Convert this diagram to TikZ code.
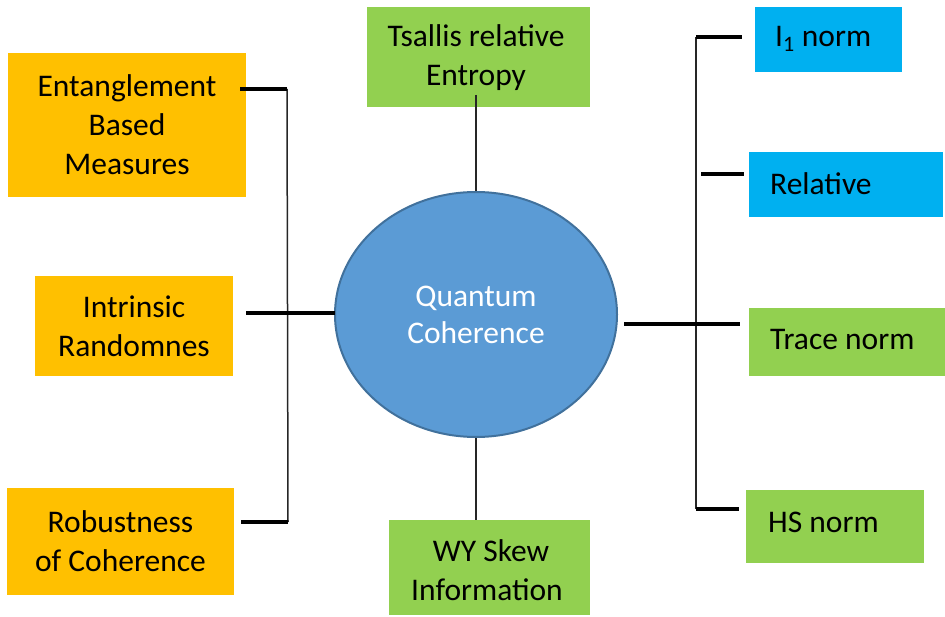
\documentclass[tikz,border=0pt]{standalone}
\usepackage{fontspec}
\setmainfont{Carlito}
\usetikzlibrary{shapes.geometric}
\definecolor{orangebox}{HTML}{FFC000}
\definecolor{greenbox}{HTML}{92D050}
\definecolor{bluebox}{HTML}{00B0F0}
\definecolor{ellfill}{HTML}{5B9BD5}
\definecolor{elledge}{HTML}{41719C}
\tikzset{
  boxbase/.style={rectangle, inner sep=0pt, outer sep=0pt, align=center,
    font=\fontsize{31.5}{39}\selectfont, text=black},
  obox/.style={boxbase, fill=orangebox},
  gbox/.style={boxbase, fill=greenbox},
  bbox/.style={boxbase, fill=bluebox},
  lbl/.style={inner sep=0pt, anchor=west, font=\fontsize{31.5}{39}\selectfont, text=black},
  thickline/.style={line width=4pt, black},
  thinline/.style={line width=1.5pt, black!85},
}
\begin{document}
\begin{tikzpicture}[x=1pt,y=-1pt]
\useasboundingbox (0,0) rectangle (945,617);
% left boxes
\node[obox, minimum width=238pt, minimum height=144pt] (ent) at (127,125) {Entanglement\\Based\\Measures};
\node[obox, minimum width=198pt, minimum height=100pt] (intr) at (134,326) {Intrinsic\\Randomnes};
\node[obox, minimum width=227pt, minimum height=107pt] (rob) at (120.5,541.5) {Robustness\\of Coherence};
% top / bottom boxes
\node[gbox, minimum width=223pt, minimum height=100pt] (ts) at (478.5,57) {};
\node[boxbase, anchor=center] at (476,58) {Tsallis relative\\Entropy};
\node[gbox, minimum width=201pt, minimum height=95pt] (wy) at (489.5,567.5) {};
\node[boxbase, anchor=center] at (487,570) {\hspace*{8pt}WY Skew\\Information};
% right boxes
\node[bbox, minimum width=147pt, minimum height=65pt] (l1) at (828.5,39.5) {};
\node[lbl] at (775,39) {I\textsubscript{1} norm};
\node[bbox, minimum width=194pt, minimum height=65pt] (rel) at (846,184.5) {};
\node[lbl] at (770,184) {Relative};
\node[gbox, minimum width=196pt, minimum height=68pt] (tr) at (847,342) {};
\node[lbl] at (770,340) {Trace norm};
\node[gbox, minimum width=178pt, minimum height=73pt] (hs) at (835,526.5) {};
\node[lbl] at (768,522) {HS norm};
% central ellipse
\node[ellipse, fill=ellfill, draw=elledge, line width=2pt, minimum width=282pt, minimum height=245pt,
  inner sep=0pt, align=center, text=white, font=\fontsize{31.5}{37}\selectfont] (qc) at (476,314.5) {Quantum\\Coherence};
% coordinates
\coordinate (a1) at (240,89);
\coordinate (b1) at (287,89);
\coordinate (a3) at (241,522);
\coordinate (b3) at (288,522);
\coordinate (a2) at (246,313);
\coordinate (a2e) at (335,313);
\coordinate (tsin) at (476,95);
\coordinate (wytop) at (476,520);
\coordinate (r0) at (696,37);
\coordinate (r1) at (742,37);
\coordinate (r2a) at (701,174);
\coordinate (r2b) at (744,174);
\coordinate (r3a) at (624,324);
\coordinate (r3b) at (740,324);
\coordinate (r4) at (696,509);
\coordinate (r4b) at (739,509);
% left bracket
\draw[thinline] (b1) -- (b3);
\draw[thickline] (a1) -- (b1);
\draw[thickline] (a3) -- (b3);
\draw[thickline] (a2) -- (a2e);
% top/bottom
\draw[thinline] (tsin) -- (qc.north);
\draw[thinline] (qc.south) -- (wytop);
% right bracket
\draw[thinline] (r0) -- (r4);
\draw[thickline] (r0) -- (r1);
\draw[thickline] (r2a) -- (r2b);
\draw[thickline] (r3a) -- (r3b);
\draw[thickline] (r4) -- (r4b);
\end{tikzpicture}
\end{document}
